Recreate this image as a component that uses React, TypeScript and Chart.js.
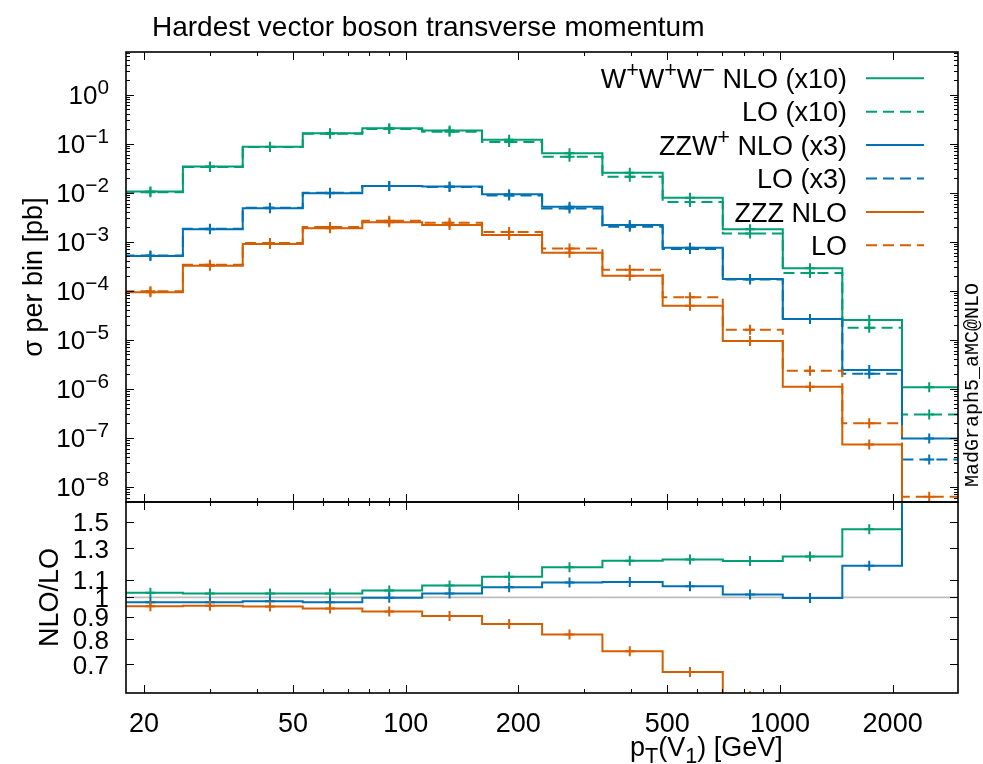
import React, { useEffect, useRef } from 'react';
import { Chart, registerables } from 'chart.js';

Chart.register(...registerables);

// ---------------- data ----------------
const binCenters = [20.8, 30.0, 43.4, 62.8, 90.4, 131, 189, 274, 397, 575, 832, 1203, 1732, 2505];

// top panel: cross section per bin [pb] (already scaled as in the legend)
const wwwNLO = [1.05e-2, 3.40e-2, 8.69e-2, 0.163, 0.206, 0.186, 0.120, 0.0637, 0.0256, 7.91e-3, 1.79e-3, 2.86e-4, 2.52e-5, 1.07e-6];
const wwwLO = [1.02e-2, 3.33e-2, 8.51e-2, 0.160, 0.198, 0.174, 0.1075, 0.0542, 0.0210, 6.46e-3, 1.47e-3, 2.30e-4, 1.75e-5, 3.0e-7];
const zzwNLO = [5.11e-4, 1.79e-3, 4.81e-3, 9.72e-3, 1.37e-2, 1.33e-2, 9.27e-3, 5.18e-3, 2.19e-3, 7.55e-4, 1.73e-4, 2.64e-5, 2.41e-6, 9.7e-8];
const zzwLO = [5.24e-4, 1.84e-3, 4.91e-3, 9.97e-3, 1.37e-2, 1.30e-2, 8.78e-3, 4.78e-3, 2.02e-3, 7.11e-4, 1.70e-4, 2.65e-5, 2.03e-6, 3.6e-8];
const zzzNLO = [9.27e-5, 3.24e-4, 8.97e-4, 1.88e-3, 2.49e-3, 2.19e-3, 1.37e-3, 5.97e-4, 2.02e-4, 4.94e-5, 9.40e-6, 1.10e-6, 7.33e-8, 1e-10];
const zzzLO = [9.72e-5, 3.39e-4, 9.42e-4, 1.99e-3, 2.68e-3, 2.42e-3, 1.58e-3, 7.28e-4, 2.69e-4, 7.36e-5, 1.60e-5, 2.33e-6, 1.97e-7, 6.25e-9];

// bottom panel: NLO/LO
const ratioWWW = [1.025, 1.021, 1.021, 1.021, 1.038, 1.066, 1.116, 1.175, 1.217, 1.224, 1.215, 1.245, 1.44, 3.5];
const ratioZZW = [0.975, 0.975, 0.980, 0.975, 0.998, 1.021, 1.056, 1.083, 1.086, 1.062, 1.016, 0.997, 1.185, 2.7];
const ratioZZZ = [0.954, 0.956, 0.952, 0.943, 0.928, 0.906, 0.868, 0.820, 0.750, 0.671, 0.59, 0.47, 0.37, 0.01];

// axes
const xMajorTicks = [20, 50, 100, 200, 500, 1000, 2000];
const xMajorLabels = ['20', '50', '100', '200', '500', '1000', '2000'];
const xMinorTicks = [30, 40, 60, 70, 80, 90, 300, 400, 600, 700, 800, 900];
const yExponents = [0, -1, -2, -3, -4, -5, -6, -7, -8];
const ratioTicks = [1.5, 1.3, 1.1, 1, 0.9, 0.8, 0.7];
const ratioTickLabels = ['1.5', '1.3', '1.1', '1', '0.9', '0.8', '0.7'];

const X_MIN = 17.9;
const X_MAX = 2990;
const Y_MIN = 4.9e-9;
const Y_MAX = 7.4;
const R_MIN = 0.603;
const R_MAX = 1.665;

const TITLE = 'Hardest vector boson transverse momentum';
const WATERMARK = 'MadGraph5_aMC@NLO';

// ---------------- styles ----------------
const FONT = '"Liberation Sans", Arial, Helvetica, sans-serif';
const MONO = '"Liberation Mono", "DejaVu Sans Mono", monospace';
const GREEN = '#009e73';
const BLUE = '#0072b2';
const ORANGE = '#d55e00';
const DASH = [11, 6];
const TICK_FS = 26;
const XTICK_FS = 27;
const LEGEND_FS = 27;
const TITLE_FS = 28;
const LABEL_FS = 27;

type Seg = { t: string; s?: 'sup' | 'sub' };

const legendEntries: { segs: Seg[]; color: string; dashed: boolean }[] = [
  { segs: [{ t: 'W' }, { t: '+', s: 'sup' }, { t: 'W' }, { t: '+', s: 'sup' }, { t: 'W' }, { t: '\u2212', s: 'sup' }, { t: ' NLO (x10)' }], color: GREEN, dashed: false },
  { segs: [{ t: 'LO (x10)' }], color: GREEN, dashed: true },
  { segs: [{ t: 'ZZW' }, { t: '+', s: 'sup' }, { t: ' NLO (x3)' }], color: BLUE, dashed: false },
  { segs: [{ t: 'LO (x3)' }], color: BLUE, dashed: true },
  { segs: [{ t: 'ZZZ NLO' }], color: ORANGE, dashed: false },
  { segs: [{ t: 'LO' }], color: ORANGE, dashed: true },
];

function stepPoints(centers: number[], values: number[]) {
  const n = centers.length;
  const edges: number[] = [centers[0] - (centers[1] - centers[0])];
  for (let i = 0; i < n - 1; i++) edges.push((centers[i] + centers[i + 1]) / 2);
  edges.push(centers[n - 1] + (centers[n - 1] - centers[n - 2]));
  // point i sits on the left edge of bin i (last point: right edge of last bin)
  return edges.map((e, i) => ({ x: e, y: values[Math.min(i, n - 1)] }));
}

function seriesDatasets(values: number[], color: string, dashed: boolean) {
  return [
    {
      data: stepPoints(binCenters, values),
      borderColor: color,
      borderWidth: 2,
      borderDash: dashed ? DASH : [],
      stepped: 'before' as const,
      pointRadius: 0,
      fill: false,
      clip: 0,
    },
    {
      data: binCenters.map((c, i) => ({ x: c, y: values[i] })),
      showLine: false,
      pointStyle: 'cross' as const,
      pointRadius: 5,
      pointBorderWidth: 2,
      borderColor: color,
      pointBorderColor: color,
      backgroundColor: color,
      clip: 0,
    },
  ];
}

function drawRich(ctx: CanvasRenderingContext2D, segs: Seg[], x: number, y: number, size: number, align: 'left' | 'right' | 'center') {
  let total = 0;
  for (const s of segs) {
    ctx.font = `${s.s ? size * 0.8 : size}px ${FONT}`;
    total += ctx.measureText(s.t).width;
  }
  let cx = align === 'right' ? x - total : align === 'center' ? x - total / 2 : x;
  ctx.textAlign = 'left';
  ctx.textBaseline = 'alphabetic';
  for (const s of segs) {
    const fs = s.s ? size * 0.8 : size;
    ctx.font = `${fs}px ${FONT}`;
    const dy = s.s === 'sup' ? -size * 0.4 : s.s === 'sub' ? size * 0.25 : 0;
    ctx.fillText(s.t, cx, y + dy);
    cx += ctx.measureText(s.t).width;
  }
}

function line(ctx: CanvasRenderingContext2D, x1: number, y1: number, x2: number, y2: number) {
  ctx.beginPath();
  ctx.moveTo(x1, y1);
  ctx.lineTo(x2, y2);
  ctx.stroke();
}

function drawXTicks(ctx: CanvasRenderingContext2D, chart: any) {
  const xs = chart.scales.x;
  const a = chart.chartArea;
  ctx.strokeStyle = '#000';
  ctx.lineWidth = 1;
  const put = (v: number, len: number) => {
    const px = Math.round(xs.getPixelForValue(v)) + 0.5;
    line(ctx, px, a.top, px, a.top + len);
    line(ctx, px, a.bottom, px, a.bottom - len);
  };
  xMajorTicks.forEach((v) => put(v, 8));
  xMinorTicks.forEach((v) => put(v, 4));
}

function drawFrame(ctx: CanvasRenderingContext2D, a: any) {
  ctx.strokeStyle = '#000';
  ctx.lineWidth = 1.6;
  ctx.strokeRect(a.left, a.top, a.right - a.left, a.bottom - a.top);
}

const topPlugin = {
  id: 'topDecor',
  afterDraw(chart: any) {
    const ctx: CanvasRenderingContext2D = chart.ctx;
    const a = chart.chartArea;
    const ys = chart.scales.y;
    ctx.save();
    drawFrame(ctx, a);
    drawXTicks(ctx, chart);
    // y ticks (log)
    ctx.lineWidth = 1;
    for (let e = -9; e <= 0; e++) {
      for (let m = 1; m <= 9; m++) {
        const v = m * Math.pow(10, e);
        if (v < Y_MIN || v > Y_MAX) continue;
        const py = Math.round(ys.getPixelForValue(v)) + 0.5;
        const len = m === 1 ? 8 : 4;
        line(ctx, a.left, py, a.left + len, py);
        line(ctx, a.right, py, a.right - len, py);
      }
    }
    // y tick labels
    ctx.fillStyle = '#000';
    yExponents.forEach((e) => {
      const py = ys.getPixelForValue(Math.pow(10, e));
      drawRich(ctx, [{ t: '10' }, { t: e === 0 ? '0' : '\u2212' + String(-e), s: 'sup' }], 109, py + TICK_FS * 0.36, TICK_FS, 'right');
    });
    // title
    ctx.font = `${TITLE_FS}px ${FONT}`;
    ctx.textAlign = 'left';
    ctx.textBaseline = 'alphabetic';
    ctx.fillText(TITLE, 152, 36);
    // y label
    ctx.save();
    ctx.translate(42, (a.top + a.bottom) / 2);
    ctx.rotate(-Math.PI / 2);
    ctx.font = `${LABEL_FS}px ${FONT}`;
    ctx.textAlign = 'center';
    ctx.fillText('\u03c3 per bin [pb]', 0, 0);
    ctx.restore();
    // watermark
    ctx.save();
    ctx.translate(978, 385);
    ctx.rotate(-Math.PI / 2);
    ctx.font = `20px ${MONO}`;
    ctx.textAlign = 'center';
    ctx.fillStyle = '#000';
    ctx.fillText(WATERMARK, 0, 0);
    ctx.restore();
    // legend
    legendEntries.forEach((en, i) => {
      const ry = 78.3 + i * 33.4;
      ctx.fillStyle = '#000';
      drawRich(ctx, en.segs, 847, ry + LEGEND_FS * 0.36, LEGEND_FS, 'right');
      ctx.strokeStyle = en.color;
      ctx.lineWidth = 2;
      ctx.setLineDash(en.dashed ? DASH : []);
      line(ctx, 866, ry, 924, ry);
      ctx.setLineDash([]);
    });
    ctx.restore();
  },
};

const bottomPlugin = {
  id: 'bottomDecor',
  beforeDatasetsDraw(chart: any) {
    const ctx: CanvasRenderingContext2D = chart.ctx;
    const a = chart.chartArea;
    const py = chart.scales.y.getPixelForValue(1);
    ctx.save();
    ctx.strokeStyle = '#bdbdbd';
    ctx.lineWidth = 1.6;
    line(ctx, a.left, py, a.right, py);
    ctx.restore();
  },
  afterDraw(chart: any) {
    const ctx: CanvasRenderingContext2D = chart.ctx;
    const a = chart.chartArea;
    const ys = chart.scales.y;
    const xs = chart.scales.x;
    ctx.save();
    drawFrame(ctx, a);
    drawXTicks(ctx, chart);
    ctx.lineWidth = 1;
    ctx.strokeStyle = '#000';
    ratioTicks.forEach((v) => {
      const py = Math.round(ys.getPixelForValue(v)) + 0.5;
      line(ctx, a.left, py, a.left + 8, py);
      line(ctx, a.right, py, a.right - 8, py);
    });
    ctx.fillStyle = '#000';
    ctx.font = `${TICK_FS}px ${FONT}`;
    ctx.textAlign = 'right';
    ctx.textBaseline = 'alphabetic';
    ratioTicks.forEach((v, i) => {
      const py = ys.getPixelForValue(v);
      ctx.fillText(ratioTickLabels[i], 109, py + TICK_FS * 0.36);
    });
    ctx.font = `${XTICK_FS}px ${FONT}`;
    ctx.textAlign = 'center';
    xMajorTicks.forEach((v, i) => {
      ctx.fillText(xMajorLabels[i], xs.getPixelForValue(v), 732);
    });
    // x label
    drawRich(ctx, [{ t: 'p' }, { t: 'T', s: 'sub' }, { t: '(V' }, { t: '1', s: 'sub' }, { t: ') [GeV]' }], 630, 756, LABEL_FS, 'left');
    // ratio label
    ctx.save();
    ctx.translate(58, ys.getPixelForValue(1));
    ctx.rotate(-Math.PI / 2);
    ctx.font = `${LABEL_FS}px ${FONT}`;
    ctx.textAlign = 'center';
    ctx.fillText('NLO/LO', 0, 0);
    ctx.restore();
    ctx.restore();
  },
};

function makeConfig(sets: any[], yMin: number, yMax: number, padTop: number, padBottom: number, plugin: any) {
  return {
    type: 'line' as const,
    data: { datasets: sets },
    options: {
      animation: false as const,
      responsive: false,
      events: [] as any[],
      layout: { padding: { left: 126, right: 25, top: padTop, bottom: padBottom } },
      scales: {
        x: { type: 'logarithmic' as const, min: X_MIN, max: X_MAX, display: false },
        y: { type: 'logarithmic' as const, min: yMin, max: yMax, display: false },
      },
      plugins: { legend: { display: false }, title: { display: false }, tooltip: { enabled: false } },
    },
    plugins: [plugin],
  };
}

export default function App() {
  const topRef = useRef<HTMLCanvasElement>(null);
  const botRef = useRef<HTMLCanvasElement>(null);

  useEffect(() => {
    const topSets = [
      ...seriesDatasets(zzzLO, ORANGE, true),
      ...seriesDatasets(zzzNLO, ORANGE, false),
      ...seriesDatasets(zzwLO, BLUE, true),
      ...seriesDatasets(zzwNLO, BLUE, false),
      ...seriesDatasets(wwwLO, GREEN, true),
      ...seriesDatasets(wwwNLO, GREEN, false),
    ];
    const botSets = [
      ...seriesDatasets(ratioZZZ, ORANGE, false),
      ...seriesDatasets(ratioZZW, BLUE, false),
      ...seriesDatasets(ratioWWW, GREEN, false),
    ];
    const top = new Chart(topRef.current as HTMLCanvasElement, makeConfig(topSets, Y_MIN, Y_MAX, 52, 764 - 502, topPlugin) as any);
    const bot = new Chart(botRef.current as HTMLCanvasElement, makeConfig(botSets, R_MIN, R_MAX, 502, 764 - 693, bottomPlugin) as any);
    return () => {
      top.destroy();
      bot.destroy();
    };
  }, []);

  return (
    <div style={{ position: 'absolute', left: 0, top: 0, width: 983, height: 764, background: '#ffffff', overflow: 'hidden' }}>
      <canvas ref={topRef} width={983} height={764} style={{ position: 'absolute', left: 0, top: 0 }} />
      <canvas ref={botRef} width={983} height={764} style={{ position: 'absolute', left: 0, top: 0 }} />
    </div>
  );
}
